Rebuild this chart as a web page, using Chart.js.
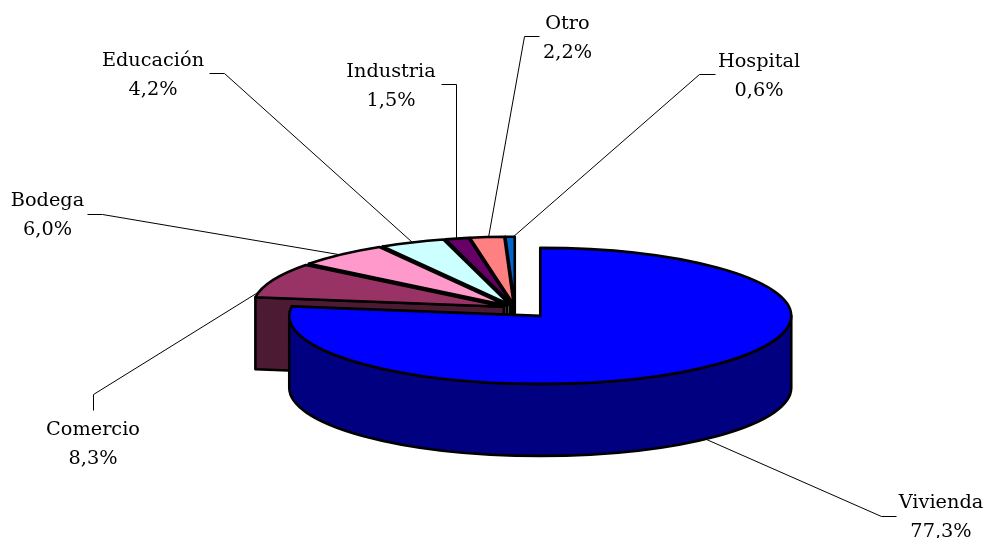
<!DOCTYPE html>
<html><head><meta charset="utf-8">
<style>html,body{margin:0;padding:0;background:#fff}canvas{display:block}</style>
<script src="https://cdn.jsdelivr.net/npm/chart.js@4/dist/chart.umd.min.js"></script>
</head><body><div style="width:985px;height:538px"><canvas id="c" width="985" height="538"></canvas></div>
<script>
const categories = ["Vivienda","Comercio","Bodega","Educación","Industria","Otro","Hospital"];
const shares = [77.3,8.3,6.0,4.2,1.5,2.2,0.6];
const shareLabels = ["77,3%","8,3%","6,0%","4,2%","1,5%","2,2%","0,6%"];
const topColors = ["#0000ff","#993366","#ff99cc","#ccffff","#660066","#ff8080","#0066cc"];
const sideColors = ["#000080","#4d1a33","#804d66","#668080","#330033","#804040","#003366"];
const explode = [38.5,12,12,12,12,12,12];
const labelCenters = [[941,502.5],[93,429.5],[47.5,200.5],[153,60.5],[391,71.5],[567.5,23.5],[759,61.5]];
const leaders = [
  [[706,439],[881,516],[896,516]],
  [[259,291],[93,394],[93,410]],
  [[338,254],[102,214],[87,214]],
  [[412,242],[224,73],[209,73]],
  [[456,239],[456,84],[441,84]],
  [[488,237],[524,36],[539,36]],
  [[512,237],[699,74],[715,74]]
];
const RX = 251, RY = 68, DEPTH = 72;
const squash = RY / RX;

const pie3d = {
  id: 'pie3d',
  beforeDatasetsDraw(chart) {
    const ctx = chart.ctx;
    const arcs = chart.getDatasetMeta(0).data;
    ctx.save();
    ctx.lineWidth = 2.6;
    ctx.lineJoin = 'round';
    ctx.strokeStyle = '#000';
    for (let i = arcs.length - 1; i >= 0; i--) {
      const arc = arcs[i];
      const a = arc.startAngle, b = arc.endAngle, r = arc.outerRadius, ry = r * squash;
      const mid = (a + b) / 2;
      const ax = arc.x + Math.cos(mid) * explode[i];
      const ay = arc.y + Math.sin(mid) * explode[i] * squash;
      const rim = t => [ax + Math.cos(t) * r, ay + Math.sin(t) * ry];
      ctx.fillStyle = sideColors[i];
      const radial = t => {
        const p = rim(t);
        ctx.beginPath();
        ctx.moveTo(ax, ay);
        ctx.lineTo(p[0], p[1]);
        ctx.lineTo(p[0], p[1] + DEPTH);
        ctx.lineTo(ax, ay + DEPTH);
        ctx.closePath();
        ctx.fill();
        ctx.stroke();
      };
      if (-Math.cos(a) > 1e-6) radial(a);
      if (Math.cos(b) > 1e-6) radial(b);
      const w0 = Math.max(a, 0), w1 = Math.min(b, Math.PI);
      if (w0 < w1) {
        ctx.beginPath();
        ctx.ellipse(ax, ay, r, ry, 0, w0, w1);
        ctx.ellipse(ax, ay + DEPTH, r, ry, 0, w1, w0, true);
        ctx.closePath();
        ctx.fill();
        ctx.stroke();
      }
      ctx.save();
      ctx.translate(ax, ay);
      ctx.scale(1, squash);
      ctx.translate(-arc.x, -arc.y);
      arc.draw(ctx);
      ctx.restore();
      ctx.beginPath();
      ctx.moveTo(ax, ay);
      ctx.ellipse(ax, ay, r, ry, 0, a, b);
      ctx.closePath();
      ctx.stroke();
    }
    ctx.restore();
    return false;
  },
  afterDraw(chart) {
    const ctx = chart.ctx;
    ctx.save();
    ctx.strokeStyle = '#000';
    ctx.lineWidth = 1;
    leaders.forEach(pts => {
      ctx.beginPath();
      pts.forEach((p, k) => k ? ctx.lineTo(p[0] + .5, p[1] + .5) : ctx.moveTo(p[0] + .5, p[1] + .5));
      ctx.stroke();
    });
    ctx.fillStyle = '#000';
    ctx.font = '19.3px "DejaVu Serif"';
    ctx.textAlign = 'center';
    ctx.textBaseline = 'middle';
    categories.forEach((name, i) => {
      const [x, y] = labelCenters[i];
      ctx.fillText(name, x, y);
      ctx.fillText(shareLabels[i], x, y + 29);
    });
    ctx.restore();
  }
};

new Chart(document.getElementById('c'), {
  type: 'pie',
  data: { labels: categories, datasets: [{ data: shares, backgroundColor: topColors, borderWidth: 0, radius: RX }] },
  options: {
    responsive: false,
    animation: false,
    layout: { padding: { left: 45, top: 78, right: 0, bottom: 0 } },
    plugins: { legend: { display: false }, tooltip: { enabled: false }, title: { display: false } }
  },
  plugins: [pie3d]
});
</script></body></html>
